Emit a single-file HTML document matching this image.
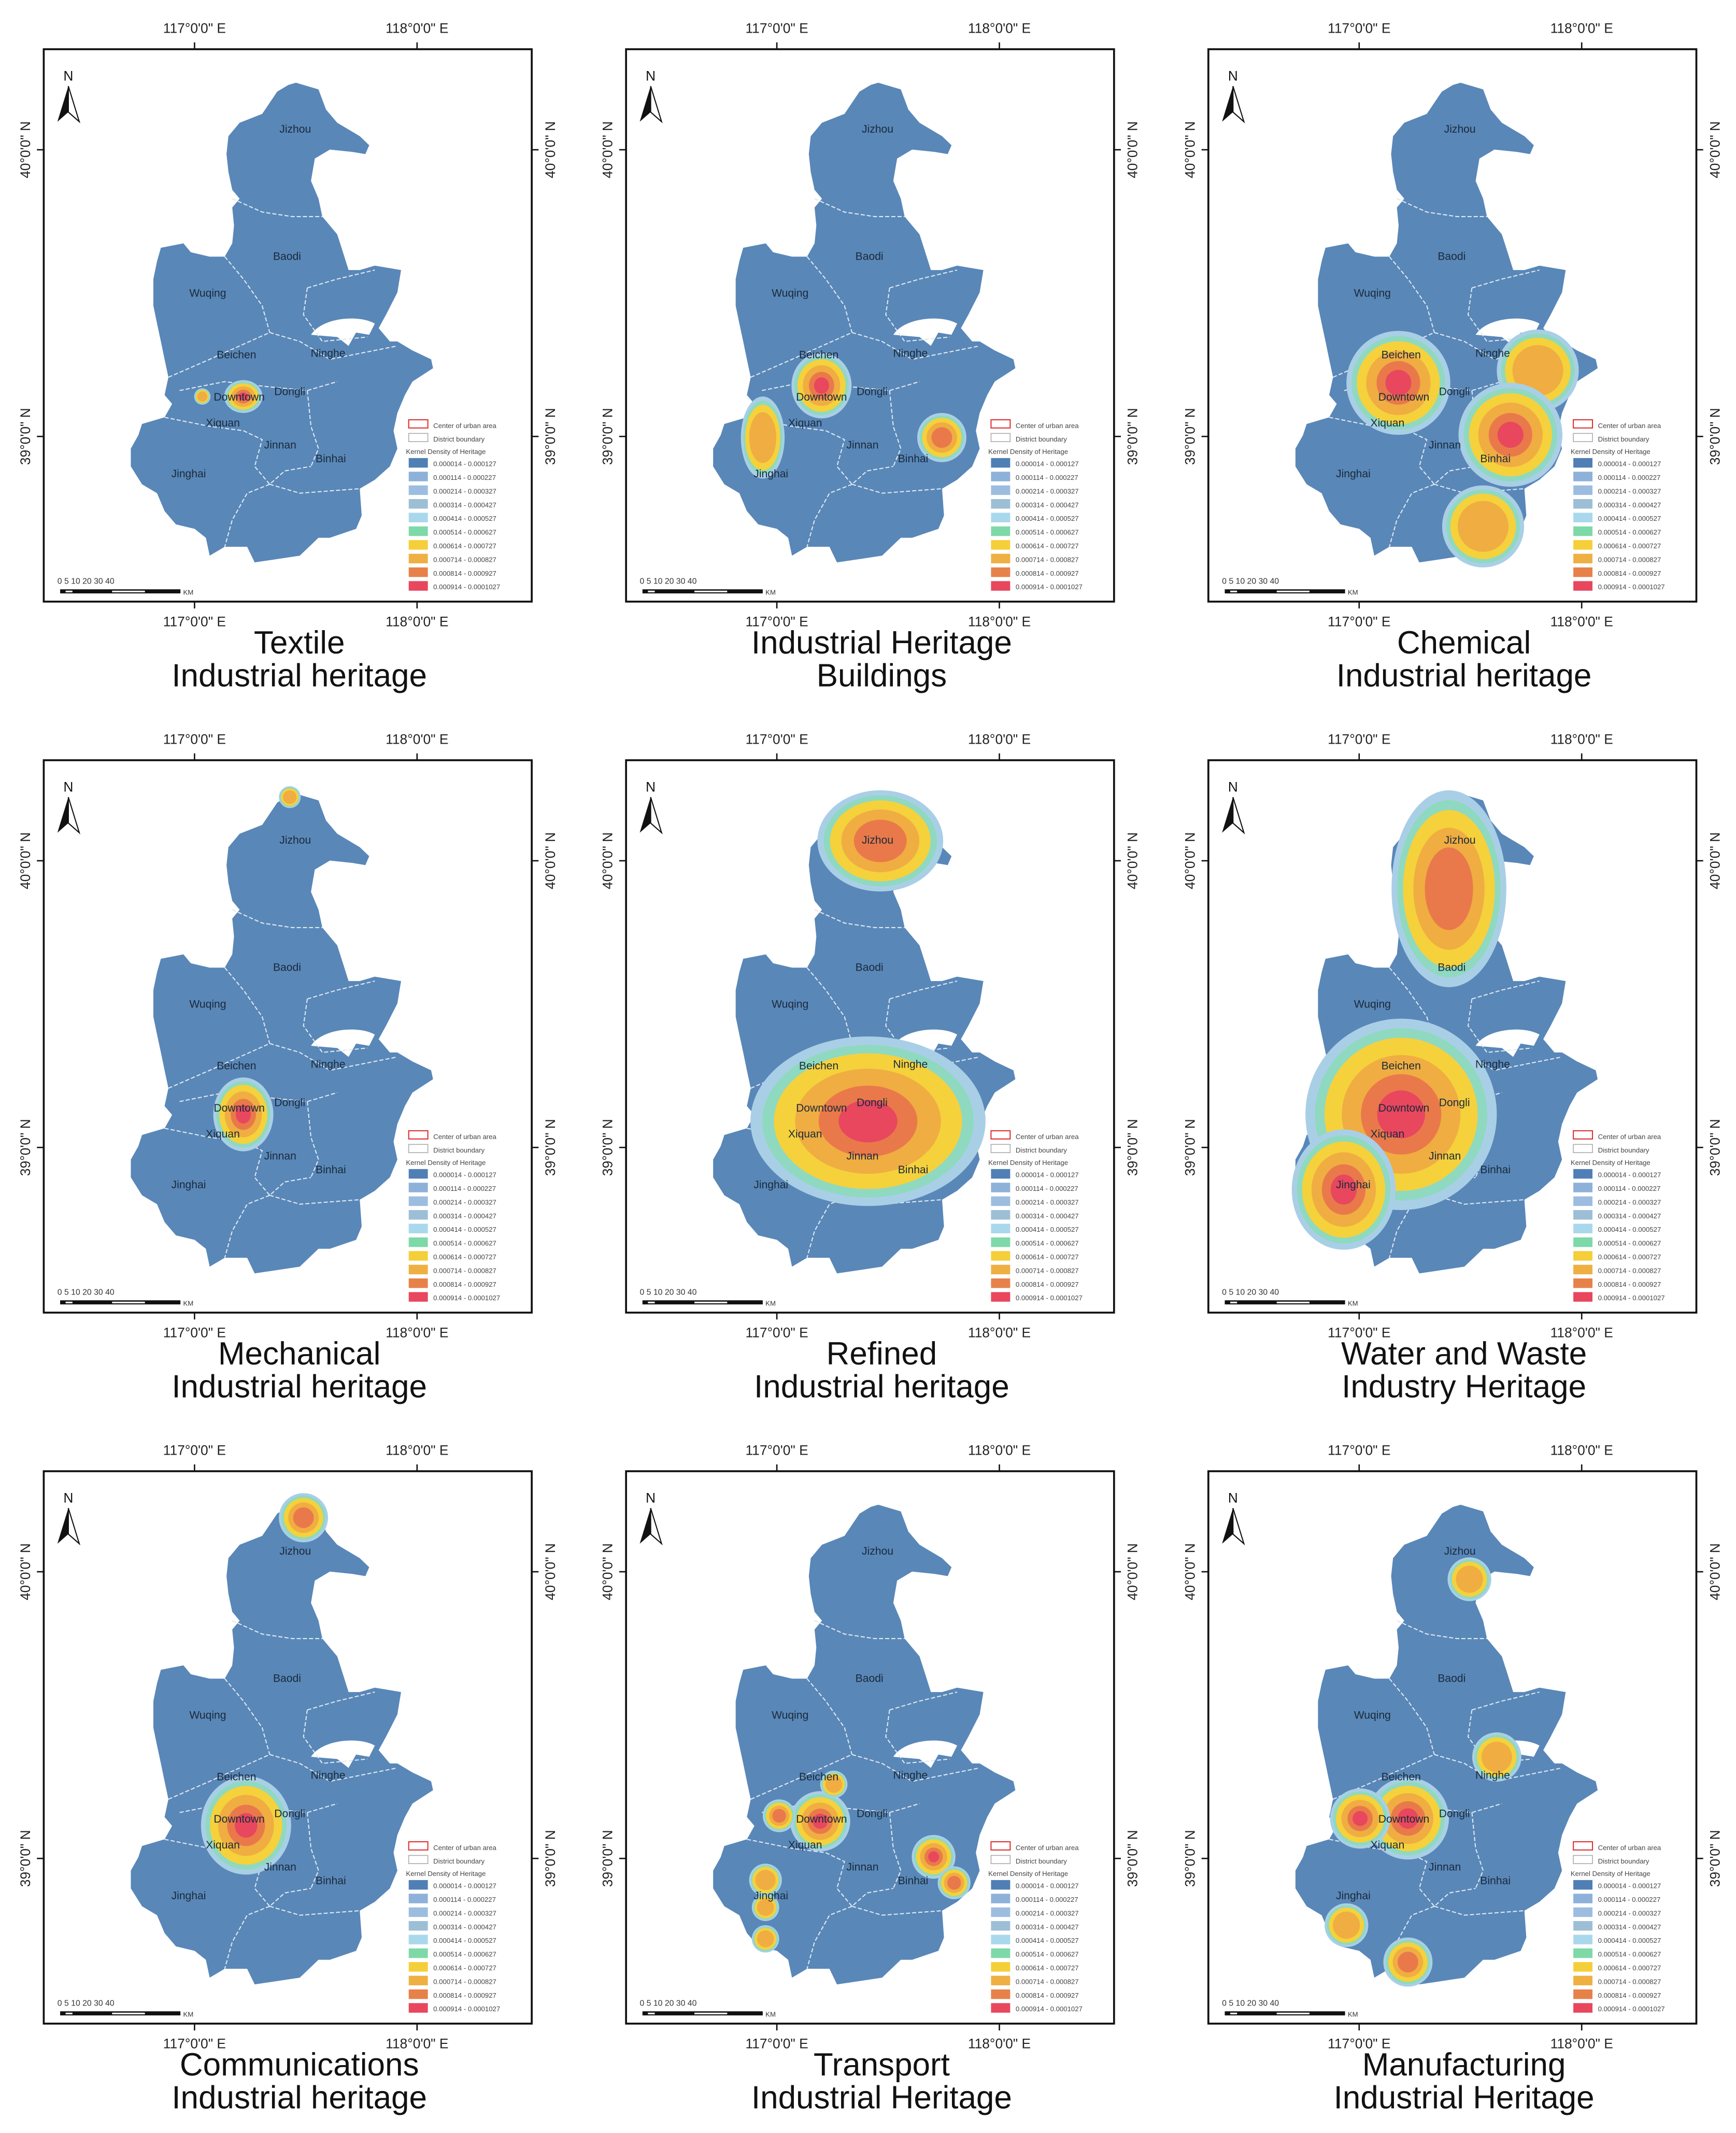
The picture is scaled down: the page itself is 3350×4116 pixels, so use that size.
<!DOCTYPE html>
<html><head><meta charset="utf-8">
<style>
html,body{margin:0;padding:0;background:#fff;}
svg{display:block;}
text{font-family:"Liberation Sans",sans-serif;}
</style></head>
<body>
<svg id="chart" xmlns="http://www.w3.org/2000/svg" width="3350" height="4116" viewBox="0 0 1270 1560" preserveAspectRatio="none"></svg>
<script>
// ---- data ----
const panelTitles1 = ["Textile","Industrial Heritage","Chemical","Mechanical","Refined","Water and Waste","Communications","Transport","Manufacturing"];
const panelTitles2 = ["Industrial heritage","Buildings","Industrial heritage","Industrial heritage","Industrial heritage","Industry Heritage","Industrial heritage","Industrial Heritage","Industrial Heritage"];
// hotspots per panel (panel-local units): centre x, centre y, radius x, radius y, peak level (5=red,4=orange,3=yellow)
const hotX = [[146,116],[143,100,231],[139,241,221,201],[146,180],[177,186],[176,141,99],[148,190],[142,112,152,225,240,102,102,102],[146,111,191,211,101,146]];
const hotY = [[254,254],[246,284,284],[244,235,282,349],[259,27],[264,59],[94,259,314],[259,34],[256,252,229,282,301,299,319,342],[254,254,79,209,332,359]];
const hotRx = [[14,6],[22,16,18],[38,30,38,30],[22,8],[86,46],[42,70,38],[33,18],[22,12,10,16,12,12,10,10],[30,22,16,18,16,18]];
const hotRy = [[12,6],[24,30,18],[38,30,38,30],[27,8],[62,37],[72,70,44],[36,18],[22,12,10,16,12,12,10,10],[30,22,16,18,16,18]];
const hotLevel = [[5,3],[5,3,4],[5,3,5,3],[5,3],[5,4],[4,5,5],[5,4],[5,4,3,5,4,3,3,3],[5,5,3,3,3,4]];
const tickLabelsX = ["117°0'0\" E","118°0'0\" E"];
const tickLabelsY = ["40°0'0\" N","39°0'0\" N"];
const districts = ["Jizhou","Baodi","Wuqing","Beichen","Ninghe","Dongli","Downtown","Xiquan","Jinnan","Binhai","Jinghai"];

// ---- layout ----
const NS="http://www.w3.org/2000/svg";
const svg=document.getElementById('chart');
const colX=[32,458,884], rowY=[36,556,1076], W=357, H=404;
const mapFill="#5987b8";
const levelColors=["#a9cfe6","#8fd9c0","#f5d13c","#f0ad42","#e9794a","#e8475e"];
const legendColors=["#4f7fb4","#8eb1d9","#9dbde0","#9dbfd6","#a9d8ec","#7ed9a8","#f5cf3a","#efb043","#e7814a","#e8475e"];
const districtPos=[[184,61],[178,154],[120,181],[141,226],[208,225],[180,253],[143,257],[131,276],[173,292],[210,302],[106,313]];
const outlineZ=[[770,185],[790,180],[850,195],[870,240],[900,270],[960,300],[985,320],[975,340],[940,335],[880,330],[840,350],[830,400],[850,440],[860,480],[900,520],[915,560],[930,600],[960,600],[1000,590],[1070,600],[1060,650],[1030,700],[1010,730],[1040,760],[1060,760],[1100,780],[1150,800],[1155,820],[1100,850],[1080,880],[1060,920],[1050,960],[1060,1000],[1040,1040],[1000,1070],[960,1090],[965,1150],[950,1180],[880,1200],[850,1200],[800,1240],[720,1250],[680,1255],[660,1220],[600,1220],[560,1240],[550,1200],[520,1180],[470,1170],[440,1140],[420,1100],[380,1080],[350,1040],[350,1000],[370,970],[380,945],[440,930],[460,900],[440,880],[450,840],[440,800],[430,760],[420,720],[410,680],[410,620],[420,580],[430,550],[490,540],[510,560],[560,570],[600,570],[620,540],[625,500],[620,460],[640,440],[620,420],[610,380],[605,340],[610,300],[640,270],[700,250],[740,200]];
function zx(x){return (x-118)/1300*W;} function zy(y){return (y-105)/1238*H;}
const outlineD="M"+outlineZ.map(p=>zx(p[0]).toFixed(1)+","+zy(p[1]).toFixed(1)).join(" L")+" Z";
const boundaries=[[[620,440],[700,470],[780,480],[860,480]],[[600,570],[650,620],[700,680],[720,740]],[[820,640],[900,620],[1000,600]],[[820,640],[810,700],[860,760],[980,750]],[[450,840],[560,800],[640,770],[720,740],[800,760],[880,800],[1060,770]],[[480,870],[600,850],[700,860],[820,870],[900,850]],[[820,870],[830,950],[850,1000],[830,1040]],[[440,930],[560,950],[650,960],[700,980],[680,1040],[720,1080],[760,1050],[830,1040]],[[720,1080],[660,1100],[620,1160],[600,1220]],[[720,1080],[800,1100],[960,1090]]];

function el(tag,attrs,parent){const e=document.createElementNS(NS,tag);for(const k in attrs)e.setAttribute(k,attrs[k]);(parent||svg).appendChild(e);return e;}
function txt(s,attrs,parent){const e=el('text',attrs,parent);e.textContent=s;return e;}
const tickFx=[0.309,0.765], tickFy=[0.182,0.701];

for(let i=0;i<9;i++){
  const ox=colX[i%3], oy=rowY[Math.floor(i/3)];
  const g=el('g',{transform:`translate(${ox},${oy})`});
  
  
  const frame=el('rect',{x:0,y:0,width:W,height:H,fill:'#fff',stroke:'#111','stroke-width':1.4},g);
  
  
  const map=el('path',{d:outlineD,fill:mapFill},g);
  
  
  const lake=el('path',{d:`M${zx(830)},${zy(745)} C${zx(860)},${zy(705)} ${zx(960)},${zy(700)} ${zx(1000)},${zy(720)} L${zx(985)},${zy(745)} L${zx(950)},${zy(740)} L${zx(930)},${zy(770)} L${zx(900)},${zy(750)} Z`,fill:'#fff'},g);
  
  
  boundaries.forEach(b=>{
    const l=el('polyline',{points:b.map(p=>zx(p[0]).toFixed(1)+","+zy(p[1]).toFixed(1)).join(" "),fill:'none',stroke:'#dfe8f2','stroke-width':0.8,'stroke-dasharray':'3,1.5'},g);
    
    
  });
  for(let h=0;h<hotX[i].length;h++){
    const lv=hotLevel[i][h];
    const fr=[1,0.9,0.8,0.62,0.42,0.25];
    for(let k=0;k<=lv;k++){
      const e=el('ellipse',{cx:hotX[i][h],cy:hotY[i][h],rx:hotRx[i][h]*fr[k],ry:hotRy[i][h]*fr[k],fill:levelColors[k]},g);
      
      
    }
  }
  districts.forEach((d,k)=>{
    const t=txt(d,{x:districtPos[k][0],y:districtPos[k][1],'font-size':8,fill:'#1a2a3a','text-anchor':'middle'},g);
    
    
  });
  const na=el('g',{},g);
  
  
  txt('N',{x:18,y:23,'font-size':10,'text-anchor':'middle',fill:'#111'},na);
  el('path',{d:'M18,27 L10,53 L18,46 Z',fill:'#111'},na);
  el('path',{d:'M18,27 L26,53 L18,46 Z',fill:'#fff',stroke:'#111','stroke-width':0.8},na);
  const sb=el('g',{},g);
  
  
  el('rect',{x:12,y:395,width:88,height:3,fill:'#111'},sb);
  el('rect',{x:16,y:396,width:5,height:1.2,fill:'#fff'},sb);
  el('rect',{x:50,y:396,width:24,height:1.2,fill:'#fff'},sb);
  txt('0  5 10    20    30    40',{x:10,y:391,'font-size':6,fill:'#333'},sb);
  txt('KM',{x:102,y:399,'font-size':5,fill:'#333'},sb);
  const lg=el('g',{},g);
  
  
  el('rect',{x:267,y:271,width:14,height:6,fill:'none',stroke:'#d33','stroke-width':0.8},lg);
  txt('Center of urban area',{x:285,y:277,'font-size':5,fill:'#444'},lg);
  el('rect',{x:267,y:281,width:14,height:6,fill:'none',stroke:'#aaa','stroke-width':0.6},lg);
  txt('District boundary',{x:285,y:287,'font-size':5,fill:'#444'},lg);
  txt('Kernel Density of Heritage',{x:265,y:296,'font-size':5,fill:'#444'},lg);
  legendColors.forEach((c,k)=>{
    el('rect',{x:267,y:299+k*10,width:14,height:7,fill:c},lg);
    txt('0.000'+k+'14 - 0.000'+(k+1)+'27',{x:285,y:305+k*10,'font-size':5,fill:'#444'},lg);
  });
  tickFx.forEach((f,k)=>{
    const x=f*W;
    el('line',{x1:x,y1:0,x2:x,y2:-5,stroke:'#111','stroke-width':1},g);
    el('line',{x1:x,y1:H,x2:x,y2:H+5,stroke:'#111','stroke-width':1},g);
    const t1=txt(tickLabelsX[k],{x:x,y:-12,'font-size':10,'text-anchor':'middle',fill:'#222'},g);
    
    
    const t2=txt(tickLabelsX[k],{x:x,y:H+18,'font-size':10,'text-anchor':'middle',fill:'#222'},g);
    
    
  });
  tickFy.forEach((f,k)=>{
    const y=f*H;
    el('line',{x1:0,y1:y,x2:-5,y2:y,stroke:'#111','stroke-width':1},g);
    el('line',{x1:W,y1:y,x2:W+5,y2:y,stroke:'#111','stroke-width':1},g);
    const t1=txt(tickLabelsY[k],{x:0,y:0,'font-size':10,'text-anchor':'middle',fill:'#222',transform:`translate(-10,${y}) rotate(-90)`},g);
    
    
    const t2=txt(tickLabelsY[k],{x:0,y:0,'font-size':10,'text-anchor':'middle',fill:'#222',transform:`translate(${W+17},${y}) rotate(-90)`},g);
    
    
  });
  const tt1=txt(panelTitles1[i],{x:187,y:H+38,'font-size':23.5,'text-anchor':'middle',fill:'#111'},g);
  
  
  const tt2=txt(panelTitles2[i],{x:187,y:H+62,'font-size':23.5,'text-anchor':'middle',fill:'#111'},g);
  
  
}
</script>
</body></html>
